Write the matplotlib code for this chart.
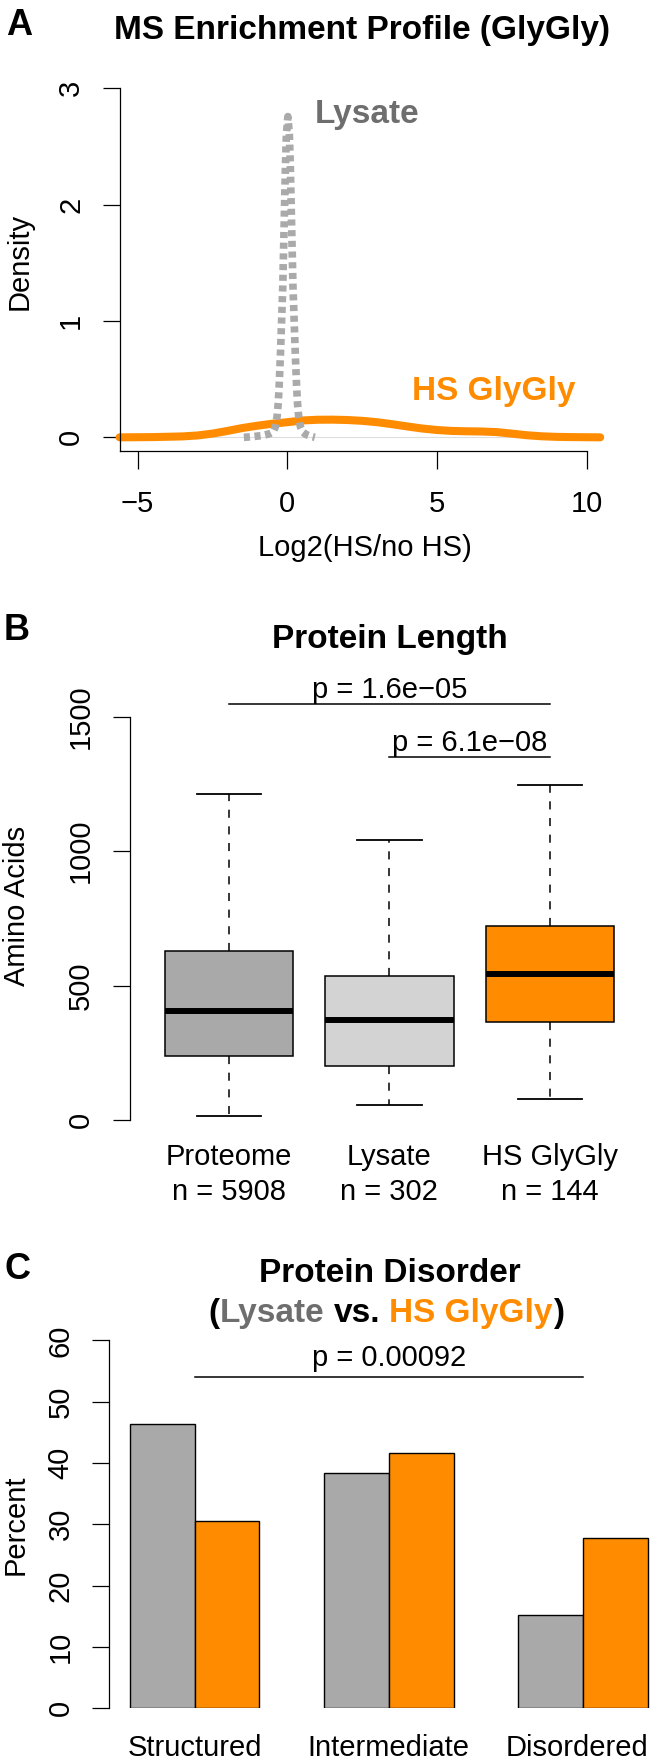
import matplotlib.pyplot as plt
from matplotlib import transforms

plt.rcParams['font.family'] = ['Liberation Sans', 'DejaVu Sans']

W, H = 650, 1764
ORANGE = "#FF8C00"
GRAY_TXT = "#6E6E6E"
GRAY_LINE = "#AAAAAA"
FS = 21      # normal text
FS_T = 24    # bold titles

# ---- A: density of log2(HS / no HS)
hs_x = [-5.6, -4.5, -3.5, -3.0, -2.5, -2.0, -1.5, -1.0, -0.5, 0.0, 0.5, 1.0, 1.5, 2.0,
        2.5, 3.0, 3.5, 4.0, 4.5, 5.0, 5.5, 6.0, 6.5, 7.0, 7.5, 8.0, 8.5, 9.0, 9.5, 10.0, 10.45]
hs_y = [0.0, 0.002, 0.008, 0.016, 0.032, 0.055, 0.08, 0.10, 0.117, 0.13, 0.145, 0.151, 0.152, 0.149,
        0.142, 0.13, 0.113, 0.094, 0.076, 0.063, 0.055, 0.052, 0.05, 0.045, 0.032, 0.018, 0.009,
        0.004, 0.002, 0.001, 0.0]

lys_x = [-1.45, -1.15, -0.85, -0.6, -0.48, -0.40, -0.34, -0.30, -0.27, -0.23, -0.19, -0.15, -0.12,
         -0.09, -0.06, -0.03, 0.02, 0.07, 0.10, 0.13, 0.16, 0.19, 0.23, 0.27, 0.31, 0.34, 0.38,
         0.44, 0.52, 0.62, 0.77, 0.92]
lys_y = [0.0, 0.006, 0.015, 0.03, 0.045, 0.09, 0.18, 0.30, 0.45, 0.70, 1.00, 1.30, 1.65, 2.00,
         2.35, 2.60, 2.757, 2.60, 2.35, 2.00, 1.65, 1.30, 1.00, 0.70, 0.45, 0.30, 0.18, 0.09,
         0.045, 0.025, 0.01, 0.0]

# ---- B: protein length boxplots
groups = ["Proteome", "Lysate", "HS GlyGly"]
counts = [5908, 302, 144]
whislo = [15, 55, 79]
q1 = [238, 200, 363]
med = [405, 371, 542]
q3 = [627, 536, 720]
whishi = [1213, 1042, 1247]
box_colors = ["#A9A9A9", "#D3D3D3", ORANGE]
p_long, p_short = "p = 1.6e\u221205", "p = 6.1e\u221208"

# ---- C: disorder percentages
categories = ["Structured", "Intermediate", "Disordered"]
lysate_pct = [46.36, 38.41, 15.23]
hs_pct = [30.56, 41.67, 27.78]
p_c = "p = 0.00092"

fig = plt.figure(figsize=(6.5, 17.64), dpi=100)
renderer = fig.canvas.get_renderer()


def fx(px):
    return px / W


def fy(py):
    return 1 - py / H


def box(l, t, r, b):
    return [l / W, 1 - b / H, (r - l) / W, (b - t) / H]


def ytick_style(ax):
    ax.tick_params(axis='y', length=12.6, width=0.9, pad=12.2, labelsize=FS, labelrotation=90)
    for lab in ax.get_yticklabels():
        lab.set_va('center')


def text_w(s, **kw):
    t = fig.text(0, 0, s, **kw)
    w = t.get_window_extent(renderer).width
    t.remove()
    return w


# ================= Panel A
axA = fig.add_axes(box(119.6, 88.3, 586.7, 451.3))
axA.set_xlim(-5.6, 10)
axA.set_ylim(-0.12, 3)
axA.plot([-5.6, 10], [0, 0], color="#DDDDDD", lw=0.8, zorder=1)
axA.plot(hs_x, hs_y, color=ORANGE, lw=5.8, solid_capstyle='round', clip_on=False, zorder=2)
axA.plot(lys_x, lys_y, color=GRAY_LINE, lw=5.5, linestyle=(0, (0.8, 0.6)),
         dash_capstyle='butt', zorder=3)
for s in ['top', 'right']:
    axA.spines[s].set_visible(False)
for s in ['left', 'bottom']:
    axA.spines[s].set_linewidth(0.9)
axA.spines['left'].set_bounds(-0.12, 3)
axA.spines['bottom'].set_bounds(-5.6, 10)
axA.set_xticks([-5, 0, 5, 10])
axA.set_yticks([0, 1, 2, 3])
axA.tick_params(axis='x', length=12.7, width=0.9, pad=15.0, labelsize=FS)
ytick_style(axA)

fig.text(fx(6), fy(35), "A", fontsize=26, fontweight='bold', va='baseline', ha='left')
fig.text(fx(362.5), fy(39.3), "MS Enrichment Profile (GlyGly)", fontsize=FS_T,
         fontweight='bold', ha='center', va='baseline')
fig.text(fx(314.6), fy(123.3), "Lysate", fontsize=FS_T, fontweight='bold', color=GRAY_TXT,
         ha='left', va='baseline')
fig.text(fx(412.5), fy(400), "HS GlyGly", fontsize=FS_T, fontweight='bold', color=ORANGE,
         ha='left', va='baseline')
fig.text(fx(19.8), fy(261.6), "Density", fontsize=FS, rotation=90, ha='center', va='center')
fig.text(fx(364.6), fy(555.7), "Log2(HS/no HS)", fontsize=FS, ha='center', va='baseline')

# ================= Panel B
axB = fig.add_axes(box(129.6, 689.8, 649.6, 1136.1))
stats = []
for i in range(len(groups)):
    stats.append(dict(label=groups[i], whislo=whislo[i], q1=q1[i], med=med[i],
                      q3=q3[i], whishi=whishi[i], fliers=[]))
pos = list(range(1, len(groups) + 1))
bp = axB.bxp(stats, positions=pos, widths=0.8, patch_artist=True, showfliers=False,
             capwidths=0.4,
             boxprops=dict(linewidth=1.1, edgecolor='black'),
             whiskerprops=dict(linewidth=1.1, linestyle=(0, (5.3, 5.6)), color='black'),
             capprops=dict(linewidth=1.3, color='black'),
             medianprops=dict(linewidth=4.3, color='black', solid_capstyle='butt'))
for patch, c in zip(bp['boxes'], box_colors):
    patch.set_facecolor(c)
axB.set_xlim(0.3826, 3.62)
axB.set_ylim(-60, 1600)
for s in ['top', 'right', 'bottom']:
    axB.spines[s].set_visible(False)
axB.spines['left'].set_linewidth(0.9)
axB.spines['left'].set_bounds(0, 1500)
axB.set_xticks([])
axB.set_yticks([0, 500, 1000, 1500])
ytick_style(axB)

trB = transforms.blended_transform_factory(axB.transData, fig.transFigure)
axB.plot([1, 3], [1548, 1548], color='black', lw=1.1, clip_on=False)
axB.plot([2, 3], [1349, 1349], color='black', lw=1.1, clip_on=False)
axB.text(2, fy(698), p_long, transform=trB, fontsize=FS, ha='center', va='baseline')
axB.text(2.5, fy(751.3), p_short, transform=trB, fontsize=FS, ha='center', va='baseline')
for i in range(len(groups)):
    axB.text(pos[i], fy(1164.7), groups[i], transform=trB, fontsize=FS, ha='center', va='baseline')
    axB.text(pos[i], fy(1200.3), "n = %d" % counts[i], transform=trB, fontsize=FS,
             ha='center', va='baseline')

fig.text(fx(4), fy(639.7), "B", fontsize=26, fontweight='bold', va='baseline', ha='left')
fig.text(fx(389.6), fy(648), "Protein Length", fontsize=FS_T, fontweight='bold',
         ha='center', va='baseline')
fig.text(fx(16.7), fy(906), "Amino Acids", fontsize=FS, rotation=90, ha='center', va='center')

# ================= Panel C
axC = fig.add_axes(box(109.2, 1328.05, 650, 1708.3))
lefts_lys = [1 + 3 * i for i in range(len(categories))]
lefts_hs = [2 + 3 * i for i in range(len(categories))]
axC.bar(lefts_lys, lysate_pct, width=1, align='edge', color="#A9A9A9",
        edgecolor='black', linewidth=1.0)
axC.bar(lefts_hs, hs_pct, width=1, align='edge', color=ORANGE,
        edgecolor='black', linewidth=1.0)
axC.set_xlim(0.68, 9.035)
axC.set_ylim(0, 62)
for s in ['top', 'right', 'bottom']:
    axC.spines[s].set_visible(False)
axC.spines['left'].set_linewidth(0.9)
axC.spines['left'].set_bounds(0, 60)
axC.set_xticks([])
axC.set_yticks([0, 10, 20, 30, 40, 50, 60])
ytick_style(axC)

trC = transforms.blended_transform_factory(axC.transData, fig.transFigure)
axC.plot([2, 8], [54, 54], color='black', lw=1.1, clip_on=False)
axC.text(5, fy(1366), p_c, transform=trC, fontsize=FS, ha='center', va='baseline')
# category labels centred under each pair, kept inside the right edge of the figure
for i in range(len(categories)):
    cx = axC.transData.transform((lefts_hs[i], 0))[0]
    w = text_w(categories[i], fontsize=FS)
    cx = min(cx, W - 2 - w / 2)
    fig.text(fx(cx), fy(1756), categories[i], fontsize=FS, ha='center', va='baseline')

fig.text(fx(4), fy(1279), "C", fontsize=26, fontweight='bold', va='baseline', ha='left')
fig.text(fx(389.6), fy(1282), "Protein Disorder", fontsize=FS_T, fontweight='bold',
         ha='center', va='baseline')
fig.text(fx(15.6), fy(1525), "Percent", fontsize=FS, rotation=90, ha='center', va='center')

# two-colour subtitle, pieces laid side by side
pieces = [("(", "black"), ("Lysate", GRAY_TXT), ("vs.", "black"), ("HS GlyGly", ORANGE), (")", "black")]
full = "(Lysate vs. HS GlyGly)"
bold = dict(fontsize=FS_T, fontweight='bold')

start = 386 - text_w(full, **bold) / 2
idx = 0
for s, c in pieces:
    idx = full.index(s, idx)
    prefix = full[:idx]
    off = 0 if not prefix else text_w(prefix + s[0], **bold) - text_w(s[0], **bold)
    fig.text(fx(start + off), fy(1322), s, color=c, ha='left', va='baseline', **bold)
    idx += len(s)

fig.savefig("out.png", dpi=100)
